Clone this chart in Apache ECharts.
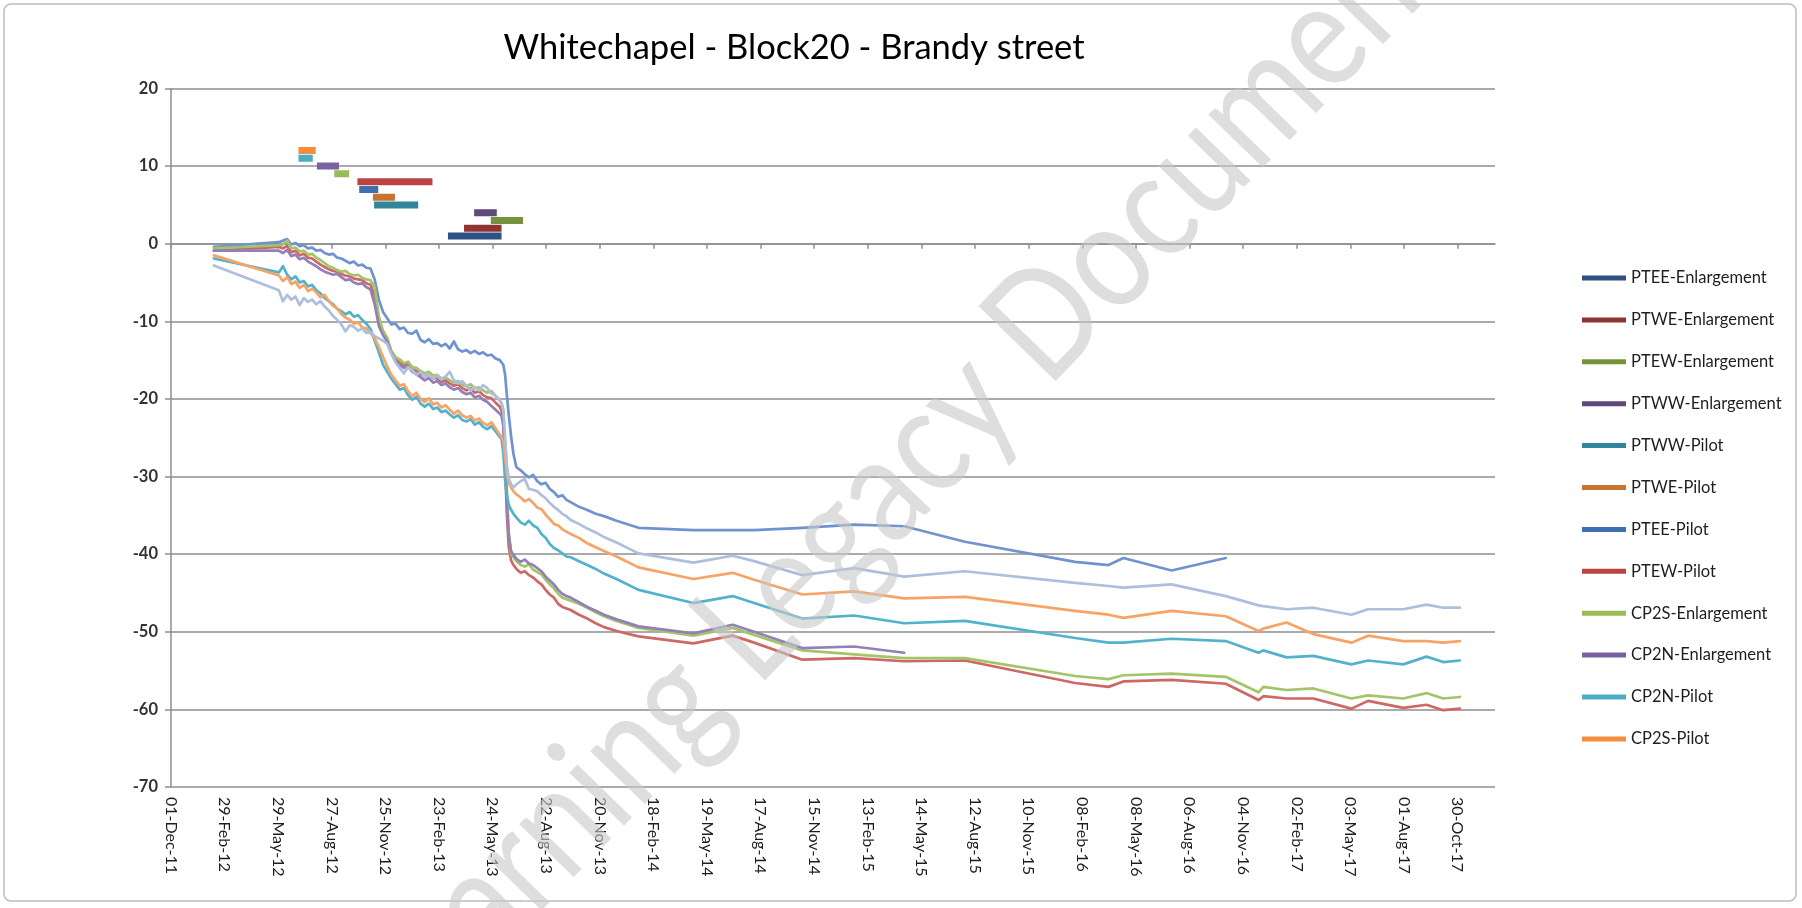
<!DOCTYPE html>
<html>
<head>
<meta charset="utf-8">
<title>Whitechapel - Block20 - Brandy street</title>
<script src="https://cdn.jsdelivr.net/npm/echarts@6/dist/echarts.min.js"></script>
<style>
  html, body { margin: 0; padding: 0; background: #ffffff; }
  #chart { width: 1802px; height: 908px; }
</style>
</head>
<body>
<div id="chart"></div>
<script>
// ---- Axis range and date ticks ----
const AXIS_START = '2011-12-01';
const AXIS_END = '2018-01-01';
const tickDates = [
  '2011-12-01', '2012-02-29', '2012-05-29', '2012-08-27', '2012-11-25',
  '2013-02-23', '2013-05-24', '2013-08-22', '2013-11-20', '2014-02-18',
  '2014-05-19', '2014-08-17', '2014-11-15', '2015-02-13', '2015-05-14',
  '2015-08-12', '2015-11-10', '2016-02-08', '2016-05-08', '2016-08-06',
  '2016-11-04', '2017-02-02', '2017-05-03', '2017-08-01', '2017-10-30'
];
const yTicks = [-70, -60, -50, -40, -30, -20, -10, 0, 10, 20];

// ---- Activity periods (drawn as flat bars at their level) ----
const activityNames = [
  'PTEE-Enlargement', 'PTWE-Enlargement', 'PTEW-Enlargement', 'PTWW-Enlargement',
  'PTWW-Pilot', 'PTWE-Pilot', 'PTEE-Pilot', 'PTEW-Pilot',
  'CP2S-Enlargement', 'CP2N-Enlargement', 'CP2N-Pilot', 'CP2S-Pilot'
];
const activityLevel = [1, 2, 3, 4, 5, 6, 7, 8, 9, 10, 11, 12];
const activityFrom = [
  '2013-03-10', '2013-04-06', '2013-05-21', '2013-04-23',
  '2012-11-06', '2012-11-04', '2012-10-12', '2012-10-09',
  '2012-08-31', '2012-08-02', '2012-07-02', '2012-07-02'
];
const activityTo = [
  '2013-06-08', '2013-06-08', '2013-07-14', '2013-05-31',
  '2013-01-19', '2012-12-11', '2012-11-13', '2013-02-12',
  '2012-09-25', '2012-09-08', '2012-07-26', '2012-07-31'
];
const activityColors = [
  '#2C5182', '#8E3432', '#76923C', '#5F497A',
  '#31859C', '#C6742E', '#3E70B0', '#B94441',
  '#9BBB59', '#7862A2', '#4BACC6', '#F28E3E'
];

// ---- Settlement readings ----
const firstReading = ['2012-02-11'];
const weeklyDates = [
  '2012-05-30', '2012-06-06', '2012-06-13', '2012-06-20', '2012-06-27',
  '2012-07-04', '2012-07-11', '2012-07-18', '2012-07-25',
  '2012-08-01', '2012-08-08', '2012-08-15', '2012-08-22', '2012-08-29',
  '2012-09-05', '2012-09-12', '2012-09-19', '2012-09-26',
  '2012-10-03', '2012-10-10', '2012-10-17', '2012-10-24', '2012-10-31',
  '2012-11-07', '2012-11-14', '2012-11-21', '2012-11-28',
  '2012-12-05', '2012-12-12', '2012-12-19', '2012-12-26',
  '2013-01-02', '2013-01-09', '2013-01-16', '2013-01-23', '2013-01-30',
  '2013-02-06', '2013-02-13', '2013-02-20', '2013-02-27',
  '2013-03-06', '2013-03-13', '2013-03-20', '2013-03-27',
  '2013-04-03', '2013-04-10', '2013-04-17', '2013-04-24',
  '2013-05-01', '2013-05-08', '2013-05-15', '2013-05-22', '2013-05-29',
  '2013-06-05'
];
const surveyDates = [
  '2013-06-08', '2013-06-11', '2013-06-14', '2013-06-17', '2013-06-20',
  '2013-06-24', '2013-06-28', '2013-07-03', '2013-07-10', '2013-07-17',
  '2013-07-24', '2013-07-31', '2013-08-07', '2013-08-14', '2013-08-21',
  '2013-08-28', '2013-09-04', '2013-09-11', '2013-09-18', '2013-09-25',
  '2013-10-02', '2013-10-16', '2013-10-30', '2013-11-13', '2013-11-27',
  '2013-12-18', '2014-01-24', '2014-04-26', '2014-07-01', '2014-08-06',
  '2014-10-26', '2015-01-21', '2015-04-15', '2015-07-26', '2016-01-27',
  '2016-03-23', '2016-04-17', '2016-07-07', '2016-10-06', '2016-11-30',
  '2016-12-08', '2017-01-16', '2017-03-02', '2017-05-05', '2017-06-02',
  '2017-07-31', '2017-09-08', '2017-10-06', '2017-11-03'
];

// values: first reading, then the 54 weekly readings, then the 49 survey readings
const settlementBlue = [
  -0.4,
  0.2, 0.4, 0.6, -0.1, 0.1, -0.3, -0.2, -0.6, -0.5, -0.9,
  -0.8, -1.2, -1.4, -1.3, -1.8, -1.9, -2.2, -2.5, -2.3, -2.8,
  -2.7, -3.1, -3.2, -4.6, -7.2, -8.8, -9.6, -10.4, -10.3, -11.0,
  -10.8, -11.5, -11.6, -11.2, -12.4, -12.7, -12.3, -12.9, -12.8, -13.2,
  -12.9, -13.5, -12.6, -13.6, -13.9, -13.7, -14.1, -13.8, -14.2, -14.0,
  -14.4, -14.3, -14.8, -15.0,
  -15.2, -15.6, -16.9, -19.6, -22.0, -24.8, -27.1, -28.8, -29.2, -29.7,
  -30.1, -29.8, -30.6, -31.0, -30.8, -31.6, -32.0, -32.6, -32.4, -33.0,
  -33.3, -33.9, -34.3, -34.8, -35.1, -35.7, -36.6, -36.9, -36.9, -36.9,
  -36.6, -36.2, -36.4, -38.4, -41.0, -41.4, -40.5, -42.1, -40.5, null,
  null, null, null, null, null, null, null, null, null
];
const settlementRed = [
  -0.9,
  -0.4, -0.6, -0.3, -1.1, -0.9, -1.5, -1.3, -1.8, -1.9, -2.3,
  -2.7, -3.0, -3.3, -3.5, -3.6, -3.9, -4.1, -4.2, -4.5, -4.6,
  -4.7, -5.1, -5.3, -6.7, -10.0, -11.5, -12.4, -14.0, -14.9, -15.3,
  -15.7, -15.5, -16.2, -16.4, -16.8, -17.1, -16.9, -17.4, -17.3, -17.8,
  -17.6, -18.0, -18.3, -18.1, -18.6, -18.9, -18.6, -19.2, -19.0, -19.5,
  -19.8, -19.9, -20.5, -21.0,
  -21.5, -23.0, -29.0, -35.0, -39.0, -40.8, -41.4, -41.9, -42.4, -42.2,
  -42.7, -43.0, -43.5, -43.9, -44.6, -45.2, -45.6, -46.4, -46.8, -47.0,
  -47.2, -47.8, -48.3, -48.9, -49.4, -49.9, -50.6, -51.5, -50.5, -51.4,
  -53.6, -53.4, -53.8, -53.7, -56.6, -57.1, -56.4, -56.2, -56.7, -58.8,
  -58.3, -58.6, -58.6, -59.9, -58.9, -59.8, -59.4, -60.1, -59.9
];
const settlementGreen = [
  -0.6,
  -0.2, -0.1, 0.4, -0.6, -0.5, -1.0, -0.9, -1.4, -1.3, -1.8,
  -2.1, -2.5, -2.9, -3.1, -3.4, -3.6, -3.5, -3.9, -4.1, -4.0,
  -4.4, -4.6, -4.7, -5.6, -9.4, -11.2, -12.1, -13.8, -14.6, -14.9,
  -15.4, -15.2, -15.9, -16.0, -16.4, -16.7, -16.5, -17.0, -16.9, -17.4,
  -17.2, -17.6, -17.9, -17.7, -18.2, -18.4, -18.1, -18.6, -18.5, -18.9,
  -19.2, -19.0, -19.6, -20.2,
  -20.6, -21.4, -26.0, -32.0, -37.0, -40.0, -40.4, -40.9, -41.4, -41.6,
  -41.3, -42.0, -42.3, -42.6, -43.3, -43.9, -44.4, -45.1, -45.6, -45.8,
  -46.0, -46.4, -46.9, -47.5, -48.0, -48.6, -49.5, -50.5, -49.5, -50.4,
  -52.4, -52.9, -53.4, -53.4, -55.7, -56.1, -55.6, -55.4, -55.8, -57.8,
  -57.1, -57.5, -57.3, -58.6, -58.2, -58.6, -57.9, -58.6, -58.4
];
const settlementPurple = [
  -0.9,
  -0.9, -1.2, -0.8, -1.6, -1.4, -2.0, -1.8, -2.3, -2.6, -2.9,
  -3.3, -3.6, -3.8, -4.0, -3.9, -4.3, -4.7, -4.6, -5.0, -5.2,
  -5.1, -5.6, -5.9, -7.8, -10.6, -11.8, -12.6, -14.1, -15.2, -15.6,
  -16.0, -15.8, -16.5, -16.8, -17.2, -17.6, -17.3, -17.9, -17.7, -18.2,
  -18.0, -18.5, -18.8, -18.6, -19.1, -19.4, -19.2, -19.8, -19.6, -20.1,
  -20.4, -20.9, -21.4, -21.9,
  -22.2, -23.5, -28.0, -33.5, -37.5, -39.6, -40.1, -40.6, -41.0, -40.7,
  -41.2, -41.4, -41.8, -42.2, -42.9, -43.4, -43.9, -44.6, -45.1, -45.4,
  -45.6, -46.2, -46.8, -47.3, -47.8, -48.4, -49.3, -50.2, -49.1, -50.0,
  -52.1, -51.9, -52.7, null, null, null, null, null, null, null,
  null, null, null, null, null, null, null, null, null
];
const settlementTeal = [
  -1.9,
  -3.7, -2.9, -4.0, -4.6, -4.2, -5.0, -4.8, -5.5, -5.3, -6.0,
  -6.4, -7.0, -7.4, -7.8, -8.4, -8.7, -9.1, -8.8, -9.4, -9.2,
  -9.8, -10.3, -11.0, -12.5, -14.0, -15.6, -16.5, -17.4, -18.1, -18.8,
  -18.6, -19.5, -20.1, -19.7, -20.6, -21.0, -20.6, -21.3, -21.1, -21.7,
  -21.5, -22.0, -22.4, -22.1, -22.7, -22.9, -22.6, -23.3, -23.0, -23.6,
  -23.9, -23.5, -24.2, -24.9,
  -25.2, -27.0, -30.5, -32.4, -33.6, -34.3, -34.8, -35.3, -35.9, -36.2,
  -35.7, -36.3, -36.6, -37.4, -37.9, -38.7, -39.2, -39.5, -39.9, -40.3,
  -40.4, -40.9, -41.4, -41.9, -42.5, -43.2, -44.6, -46.3, -45.4, -46.3,
  -48.3, -47.9, -48.9, -48.6, -50.8, -51.4, -51.4, -50.9, -51.2, -52.7,
  -52.4, -53.3, -53.1, -54.2, -53.7, -54.2, -53.2, -53.9, -53.7
];
const settlementOrange = [
  -1.5,
  -4.1, -4.8, -4.3, -5.2, -4.9, -5.7, -5.3, -6.1, -5.8, -6.3,
  -6.9, -6.6, -7.4, -8.0, -8.3, -9.1, -9.5, -9.8, -10.3, -10.1,
  -10.8, -10.9, -11.5, -12.2, -13.3, -14.6, -15.8, -16.9, -17.6, -18.3,
  -18.1, -19.0, -19.6, -19.2, -20.0, -20.4, -19.9, -20.7, -20.5, -21.1,
  -20.8, -21.4, -21.9, -21.5, -22.1, -22.4, -22.2, -22.8, -22.5, -23.1,
  -23.4, -23.0, -23.8, -24.6,
  -24.9, -25.6, -27.5, -29.8, -30.8, -31.4, -31.9, -32.3, -32.7, -33.2,
  -32.9, -33.4, -34.0, -34.2, -34.9, -35.5, -36.1, -36.3, -36.8, -37.1,
  -37.4, -37.9, -38.6, -39.1, -39.6, -40.3, -41.7, -43.2, -42.4, -43.3,
  -45.2, -44.8, -45.7, -45.5, -47.3, -47.8, -48.2, -47.3, -48.0, -49.9,
  -49.6, -48.8, -50.3, -51.4, -50.5, -51.2, -51.2, -51.4, -51.2
];
const settlementLavender = [
  -2.8,
  -6.0, -7.4, -6.6, -7.2, -6.8, -7.9, -7.0, -7.5, -7.2, -7.8,
  -7.4, -8.1, -8.6, -9.3, -9.8, -10.4, -11.3, -10.5, -10.7, -11.2,
  -10.9, -11.5, -11.4, -11.9, -12.2, -12.5, -12.9, -14.2, -15.3, -16.0,
  -16.7, -15.9, -16.3, -16.9, -16.5, -17.2, -16.9, -17.4, -17.0, -17.5,
  -17.1, -16.5, -17.6, -18.0, -17.7, -18.3, -18.9, -18.5, -18.9, -18.2,
  -18.6, -19.3, -19.6, -20.2,
  -20.5, -21.5, -25.0, -28.6, -30.2, -31.0, -31.4, -31.0, -30.6, -30.3,
  -31.6, -31.7, -31.9, -32.4, -32.8, -33.4, -33.9, -34.3, -34.8, -35.1,
  -35.6, -36.1, -36.7, -37.2, -37.8, -38.5, -39.9, -41.1, -40.2, -40.9,
  -42.7, -41.8, -42.9, -42.2, -43.7, -44.1, -44.3, -43.9, -45.4, -46.6,
  -46.7, -47.1, -46.9, -47.8, -47.1, -47.1, -46.5, -46.9, -46.9
];
// drawn in this order, later ones on top
const settlementNames = ['Point 13', 'Point 14', 'Point 15', 'Point 16', 'Point 17', 'Point 18', 'Point 19'];
const settlementValues = [settlementBlue, settlementRed, settlementGreen, settlementPurple,
                          settlementTeal, settlementOrange, settlementLavender];
const settlementColors = ['#6F93CF', '#CD6866', '#A4C46A', '#9480B6', '#52B2CC', '#F8A366', '#AEBEDD'];

// ---- helpers: x positions are whole days counted from the axis start ----
const MS_DAY = 86400000;
const startMs = Date.parse(AXIS_START + 'T00:00:00Z');
const dayOf = s => Math.round((Date.parse(s + 'T00:00:00Z') - startMs) / MS_DAY);
const MONTHS = ['Jan', 'Feb', 'Mar', 'Apr', 'May', 'Jun', 'Jul', 'Aug', 'Sep', 'Oct', 'Nov', 'Dec'];
function dayLabel(d) {
  const t = new Date(startMs + d * MS_DAY);
  return String(t.getUTCDate()).padStart(2, '0') + '-' + MONTHS[t.getUTCMonth()] + '-' +
         String(t.getUTCFullYear()).slice(2);
}
const xMax = dayOf(AXIS_END);
const tickDays = tickDates.map(dayOf);
const readingDays = firstReading.concat(weeklyDates, surveyDates).map(dayOf);

const FONT = 'Lato, "Open Sans", sans-serif';
const GRID_GREY = '#8E8E8E';

const series = [];
activityNames.forEach((name, i) => {
  series.push({
    name: name,
    type: 'line',
    xAxisIndex: 0,
    symbol: 'none',
    color: activityColors[i],
    lineStyle: { width: 7, color: activityColors[i], cap: 'butt' },
    data: [[dayOf(activityFrom[i]), activityLevel[i]], [dayOf(activityTo[i]), activityLevel[i]]],
    animation: false,
    silent: true
  });
});
settlementValues.forEach((vals, i) => {
  series.push({
    name: settlementNames[i],
    type: 'line',
    xAxisIndex: 0,
    symbol: 'none',
    color: settlementColors[i],
    lineStyle: { width: 2.7, color: settlementColors[i], join: 'round', cap: 'round' },
    data: vals.map((v, k) => [readingDays[k], v]),
    connectNulls: false,
    animation: false,
    silent: true
  });
});

const xCommon = {
  type: 'value',
  min: 0,
  max: xMax,
  interval: 90,
  splitLine: { show: false }
};

const option = {
  backgroundColor: '#ffffff',
  animation: false,
  textStyle: { fontFamily: FONT },
  grid: { left: 171, top: 88.5, width: 1324, height: 698.5 },
  legend: {
    data: activityNames,
    orient: 'vertical',
    left: 1577,
    top: 264,
    icon: 'rect',
    itemWidth: 44,
    itemHeight: 5,
    itemGap: 23.9,
    selectedMode: false,
    textStyle: { fontFamily: FONT, fontSize: 16.5, lineHeight: 18, color: '#1E1E1E' }
  },
  xAxis: [
    Object.assign({}, xCommon, {
      position: 'bottom',
      axisLine: { show: true, onZero: true, lineStyle: { color: GRID_GREY, width: 1.5 } },
      axisTick: { show: true, inside: false, length: 5, customValues: tickDays,
                  lineStyle: { color: GRID_GREY, width: 1.5 } },
      axisLabel: { show: false }
    }),
    Object.assign({}, xCommon, {
      position: 'bottom',
      axisLine: { show: false, onZero: false },
      axisTick: { show: false },
      axisLabel: {
        show: true,
        customValues: tickDays,
        rotate: -90,
        margin: 10,
        fontFamily: FONT,
        fontSize: 16,
        color: '#1E1E1E',
        formatter: v => dayLabel(v)
      }
    })
  ],
  yAxis: {
    type: 'value',
    min: yTicks[0],
    max: yTicks[yTicks.length - 1],
    interval: 10,
    axisLine: { show: true, lineStyle: { color: GRID_GREY, width: 1.5 } },
    axisTick: { show: true, inside: false, length: 6, lineStyle: { color: GRID_GREY, width: 1.5 } },
    axisLabel: { margin: 13, fontFamily: FONT, fontSize: 16.5, fontWeight: 'bold', color: '#333333' },
    splitLine: { show: true, lineStyle: { color: GRID_GREY, width: 1.5 } }
  },
  graphic: [
    {
      type: 'rect',
      shape: { x: 4, y: 4, width: 1792, height: 897, r: 7 },
      style: { fill: 'none', stroke: '#BDBDBD', lineWidth: 1.5 },
      z: 0, silent: true
    },
    {
      type: 'text',
      style: {
        text: 'Whitechapel - Block20 - Brandy street',
        x: 794, y: 48,
        textAlign: 'center', textVerticalAlign: 'middle',
        font: '34.5px ' + FONT,
        fill: '#000000'
      },
      z: 10, silent: true
    },
    {
      type: 'text',
      x: 895, y: 477,
      rotation: 0.8,
      scaleX: 0.85,
      style: {
        text: 'Learning Legacy Document',
        x: 0, y: 0,
        textAlign: 'center', textVerticalAlign: 'middle',
        font: '150px ' + FONT,
        fill: 'rgba(200,200,200,0.6)'
      },
      z: 100, silent: true
    }
  ],
  series: series
};

const chart = echarts.init(document.getElementById('chart'), null, { renderer: 'canvas' });
chart.setOption(option);
</script>
</body>
</html>
